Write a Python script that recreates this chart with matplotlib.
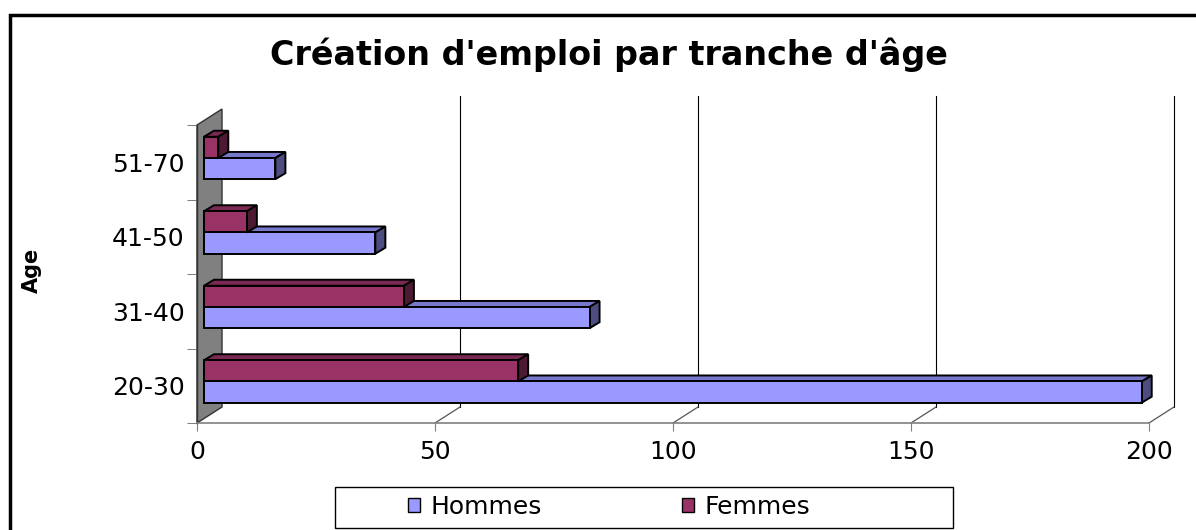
import matplotlib.pyplot as plt
from matplotlib.patches import Rectangle, Polygon, Patch

# data
ages = ["20-30", "31-40", "41-50", "51-70"]
hommes = [197, 81, 36, 15]
femmes = [66, 42, 9, 3]
xticks = [0, 50, 100, 150, 200]

c_h = ("#9999ff", "#7777cc", "#4d4d80")   # front, top, side
c_f = ("#993366", "#7a2952", "#4d1a33")

fig = plt.figure(figsize=(11.96, 5.30), dpi=100)
W, H = 952, 298
ax = fig.add_axes([197 / 1196, 1 - 423 / 530, W / 1196, H / 530])
ax.set_xlim(0, 200)
ax.set_ylim(-0.5, 3.5)
ax.patch.set_visible(False)

ux = 200 / W
uy = 4 / H


def px(dx, dy):
    return dx * ux, dy * uy


# wall / floor depth
wdx, wdy = px(25, 16)
ax.add_patch(Polygon([(0, -0.5), (0, 3.5), (wdx, 3.5 + wdy), (wdx, -0.5 + wdy)],
                     closed=True, fc="#808080", ec="#333333", lw=1, clip_on=False, zorder=1))

# gridlines on back plane + floor lines
gtop = 3.5 + px(0, 29)[1]
for v in xticks[1:]:
    ax.plot([v + wdx, v + wdx], [-0.5 + wdy, gtop], color="black", lw=0.8, clip_on=False, zorder=0.5)
    ax.plot([v, v + wdx], [-0.5, -0.5 + wdy], color="#555555", lw=0.9, clip_on=False, zorder=0.5)

# bars
bx = px(7, 0)[0]
bdx, bdy = px(10, 6)
h = 0.285
for i in range(len(ages)):
    for val, off, cols in ((hommes[i], -0.085, c_h), (femmes[i], 0.2, c_f)):
        y0 = i + off - h / 2
        y1 = y0 + h
        x0, x1 = bx, bx + val
        kw = dict(ec="black", lw=1.4, clip_on=False, zorder=3, joinstyle="miter")
        ax.add_patch(Polygon([(x0, y1), (x1, y1), (x1 + bdx, y1 + bdy), (x0 + bdx, y1 + bdy)],
                             closed=True, fc=cols[1], **kw))
        ax.add_patch(Polygon([(x1, y0), (x1 + bdx, y0 + bdy), (x1 + bdx, y1 + bdy), (x1, y1)],
                             closed=True, fc=cols[2], **kw))
        ax.add_patch(Rectangle((x0, y0), val, h, fc=cols[0], **kw))

# axes styling
for s in ("top", "right"):
    ax.spines[s].set_visible(False)
ax.spines["bottom"].set_color("#808080")
ax.spines["bottom"].set_linewidth(1.2)
ax.spines["left"].set_color("#333333")
ax.spines["left"].set_linewidth(1)

ax.set_xticks(xticks)
ax.set_xticklabels([str(v) for v in xticks])
ax.tick_params(axis="x", direction="out", length=6, color="#808080", pad=6, labelsize=18)

ax.set_yticks(range(len(ages)))
ax.set_yticklabels(ages)
ax.tick_params(axis="y", which="major", length=0, pad=9, labelsize=18)
ax.set_yticks([-0.5, 0.5, 1.5, 2.5, 3.5], minor=True)
ax.tick_params(axis="y", which="minor", direction="out", length=7, color="#666666")

fig.text(32 / 1196, 1 - 270 / 530, "Age", rotation=90, fontsize=15, fontweight="bold",
         ha="center", va="center")
fig.text(609 / 1196, 1 - 55 / 530, "Création d'emploi par tranche d'âge", fontsize=24,
         fontweight="bold", ha="center", va="center")

# outer frame
fig.patches.append(Rectangle((10 / 1196, -0.1), 1.1, 1.1 - 15 / 530, transform=fig.transFigure,
                             fill=False, ec="black", lw=2.5, clip_on=False))

# legend box + entries
fig.patches.append(Rectangle((335 / 1196, 1 - 528 / 530), 618 / 1196, 41 / 530,
                             transform=fig.transFigure, fc="white", ec="black", lw=1))
handles = [Patch(fc=c_h[0], ec="black", lw=1), Patch(fc=c_f[0], ec="black", lw=1)]
leg = fig.legend(handles, ["Hommes", "Femmes"], ncol=2, fontsize=18, frameon=False,
                 loc="center", bbox_to_anchor=(609 / 1196, 1 - 507 / 530),
                 handlelength=0.5, handleheight=0.5, handletextpad=0.4,
                 columnspacing=5.6, borderpad=0, borderaxespad=0)

fig.savefig("out.png", dpi=100)
